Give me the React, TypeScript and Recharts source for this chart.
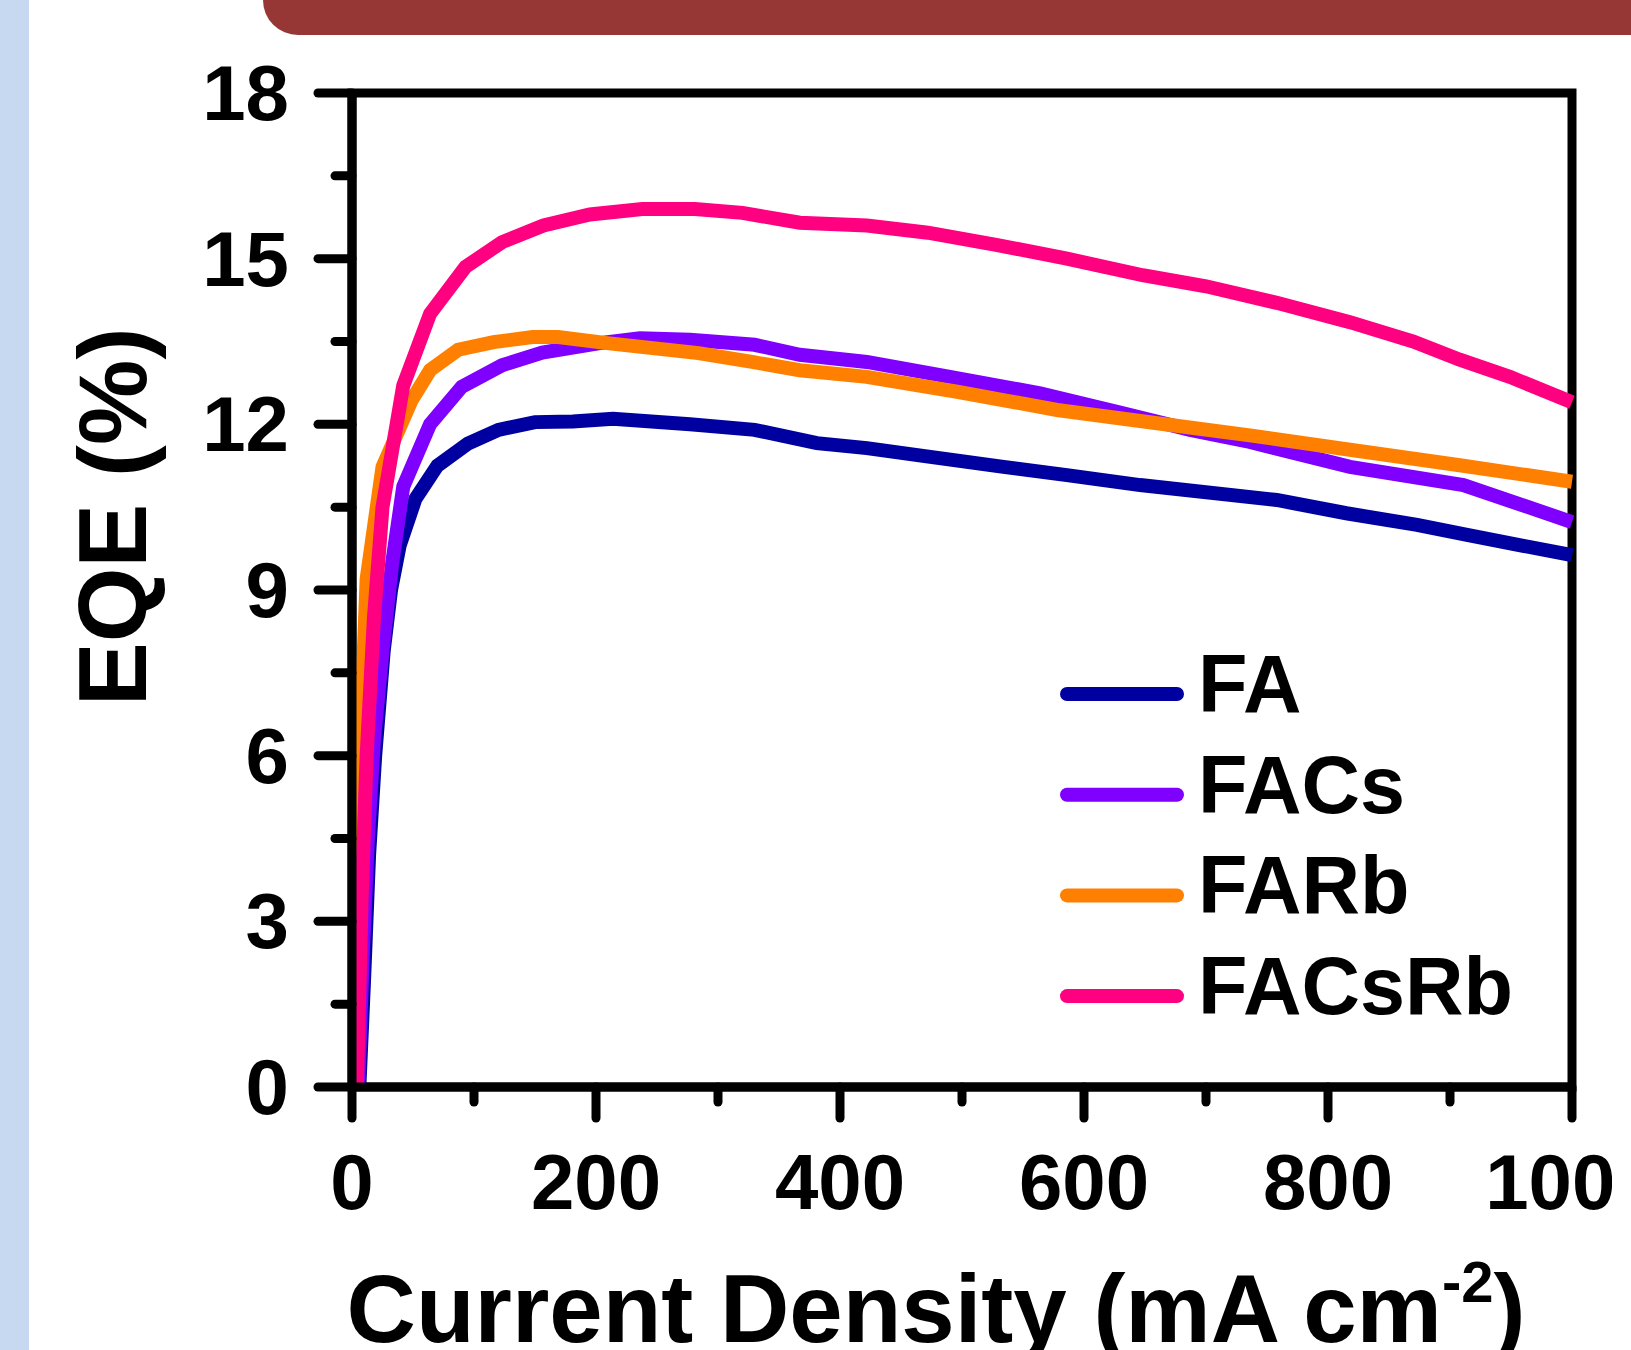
import React from "react"
import { Legend, Line, LineChart, ReferenceArea, XAxis, YAxis } from "recharts"

// Values.
const seriesNames = ["FA", "FACs", "FARb", "FACsRb"]
const seriesColors = ["#0000A0", "#8000FF", "#FF8000", "#FF0080"]

const currentFA = [6, 10, 14, 19, 26, 32, 39, 52, 70, 95, 120, 150, 181, 214, 277, 330, 381, 422, 474, 534, 586, 646, 758, 815, 873, 914, 960, 1000]
const eqeFA = [0, 2, 4.2, 6, 7.9, 9.0, 9.8, 10.65, 11.25, 11.65, 11.9, 12.04, 12.05, 12.1, 12.0, 11.9, 11.66, 11.57, 11.41, 11.23, 11.08, 10.9, 10.63, 10.39, 10.18, 10.0, 9.8, 9.63]

const currentFACs = [5, 9, 13, 18, 25, 33, 42, 64, 90, 123, 156, 203, 236, 277, 330, 367, 422, 490, 564, 632, 687, 736, 818, 911, 1000]
const eqeFACs = [0, 2.5, 4.5, 6.3, 7.9, 9.5, 10.87, 12.0, 12.68, 13.07, 13.3, 13.47, 13.56, 13.53, 13.44, 13.26, 13.13, 12.86, 12.56, 12.2, 11.9, 11.68, 11.23, 10.9, 10.23]

const currentFARb = [3, 6, 9, 12, 25, 49, 64, 87, 116, 148, 169, 209, 284, 328, 367, 422, 496, 578, 660, 736, 818, 908, 1000]
const eqeFARb = [0, 4.5, 7.5, 9.2, 11.23, 12.44, 12.98, 13.35, 13.49, 13.58, 13.58, 13.47, 13.29, 13.13, 12.98, 12.86, 12.59, 12.26, 12.02, 11.8, 11.54, 11.26, 10.96]

const currentFACsRb = [4, 8, 12, 18, 25, 42, 64, 93, 123, 157, 195, 238, 281, 320, 367, 422, 472, 528, 586, 648, 700, 758, 818, 870, 908, 949, 1000]
const eqeFACsRb = [0, 3.5, 6, 8.5, 10.5, 12.7, 14.0, 14.85, 15.3, 15.6, 15.8, 15.9, 15.9, 15.83, 15.65, 15.6, 15.47, 15.25, 15.0, 14.7, 14.5, 14.2, 13.85, 13.5, 13.17, 12.86, 12.4]

const xTicks = [0, 100, 200, 300, 400, 500, 600, 700, 800, 900, 1000]
const yTicks = [0, 1.5, 3, 4.5, 6, 7.5, 9, 10.5, 12, 13.5, 15, 16.5, 18]

const zip = (xs: number[], ys: number[]) => xs.map((x, i) => ({ x, y: ys[i] }))

const series = [
  zip(currentFA, eqeFA),
  zip(currentFACs, eqeFACs),
  zip(currentFARb, eqeFARb),
  zip(currentFACsRb, eqeFACsRb),
]

const FONT = "'Liberation Sans', Arial, sans-serif"
const AXIS_W = 9
const LINE_W = 14

function YTick(props: any) {
  const { x, y, payload } = props
  const major = payload.value % 3 === 0
  return (
    <g>
      <line
        x1={x - (major ? 34 : 17)}
        x2={x}
        y1={y}
        y2={y}
        stroke="#000"
        strokeWidth={AXIS_W}
        strokeLinecap="round"
      />
      {major && (
        <text
          x={x - 63}
          y={y}
          dy={27}
          textAnchor="end"
          fontFamily={FONT}
          fontWeight="bold"
          fontSize={78}
          fill="#000"
        >
          {payload.value}
        </text>
      )}
    </g>
  )
}

function XTick(props: any) {
  const { x, y, payload } = props
  const major = payload.value % 200 === 0
  return (
    <g>
      <line
        x1={x}
        x2={x}
        y1={y}
        y2={y + (major ? 31 : 15)}
        stroke="#000"
        strokeWidth={AXIS_W}
        strokeLinecap="round"
      />
      {major && (
        <text
          x={x}
          y={y + 122}
          textAnchor="middle"
          fontFamily={FONT}
          fontWeight="bold"
          fontSize={78}
          fill="#000"
        >
          {payload.value}
        </text>
      )}
    </g>
  )
}

function XTitle(props: any) {
  const { viewBox } = props
  const cx = viewBox.x + viewBox.width / 2 - 26
  return (
    <text
      x={cx}
      y={viewBox.y + 255}
      textAnchor="middle"
      fontFamily={FONT}
      fontWeight="bold"
      fontSize={96}
      fill="#000"
    >
      Current Density (mA cm
      <tspan fontSize={58} dy={-40}>-2</tspan>
      <tspan dy={40}>)</tspan>
    </text>
  )
}

function YTitle(props: any) {
  const { viewBox } = props
  const bx = viewBox.x - 106
  const cy = viewBox.y + viewBox.height / 2 - 73
  return (
    <text
      x={bx}
      y={cy}
      transform={`rotate(-90, ${bx}, ${cy})`}
      textAnchor="middle"
      fontFamily={FONT}
      fontWeight="bold"
      fontSize={96}
      fill="#000"
    >
      EQE (%)
    </text>
  )
}

function LegendBox({ payload }: any) {
  // keep the plotting order (Recharts sorts legend items by name)
  const items = seriesNames
    .map((name) => (payload ?? []).find((p: any) => p.value === name))
    .filter(Boolean)
  return (
    <svg width={540} height={420}>
      {items.map((entry: any, i: number) => {
        const cy = 54 + i * 100.7
        return (
          <g key={entry.value}>
            <line
              x1={17}
              x2={127}
              y1={cy}
              y2={cy}
              stroke={entry.color}
              strokeWidth={LINE_W}
              strokeLinecap="round"
            />
            <text
              x={148}
              y={cy + 18}
              fontFamily={FONT}
              fontWeight="bold"
              fontSize={81}
              fill="#000"
            >
              {entry.value}
            </text>
          </g>
        )
      })}
    </svg>
  )
}

export default function App() {
  return (
    <div
      style={{
        position: "absolute",
        left: 0,
        top: 0,
        width: 1631,
        height: 1350,
        background: "#FFFFFF",
        overflow: "hidden",
      }}
    >
      {/* slide decorations */}
      <div style={{ position: "absolute", left: 0, top: 0, width: 29, height: 1350, background: "#C6D9F0" }} />
      <div
        style={{
          position: "absolute",
          left: 263,
          top: 0,
          width: 1368,
          height: 35,
          background: "#963735",
          borderBottomLeftRadius: 40,
        }}
      />
      {/* the figure is cropped a little before the right edge */}
      <div style={{ position: "absolute", left: 0, top: 0, width: 1612, height: 1350, overflow: "hidden" }}>
        <LineChart
          width={1631}
          height={1350}
          margin={{ top: 93, right: 59, bottom: 163, left: 252 }}
        >
          <XAxis
            dataKey="x"
            type="number"
            domain={[0, 1000]}
            ticks={xTicks}
            interval={0}
            tickSize={0}
            tickMargin={0}
            height={100}
            axisLine={{ stroke: "#000", strokeWidth: AXIS_W }}
            tick={<XTick />}
            label={<XTitle />}
          />
          <YAxis
            dataKey="y"
            type="number"
            domain={[0, 18]}
            ticks={yTicks}
            interval={0}
            tickSize={0}
            tickMargin={0}
            width={100}
            axisLine={{ stroke: "#000", strokeWidth: AXIS_W }}
            tick={<YTick />}
            label={<YTitle />}
          />
          {series.map((data, i) => (
            <Line
              key={seriesNames[i]}
              data={data}
              dataKey="y"
              name={seriesNames[i]}
              type="linear"
              stroke={seriesColors[i]}
              strokeWidth={LINE_W}
              style={{ strokeWidth: LINE_W }}
              dot={false}
              activeDot={false}
              legendType="line"
              isAnimationActive={false}
            />
          ))}
          <ReferenceArea
            x1={0}
            x2={1000}
            y1={0}
            y2={18}
            fill="none"
            stroke="#000"
            strokeWidth={AXIS_W}
            ifOverflow="visible"
          />
          <Legend
            layout="vertical"
            align="center"
            verticalAlign="middle"
            wrapperStyle={{ left: 1050, top: 640, width: 540, height: 420 }}
            content={<LegendBox />}
          />
        </LineChart>
      </div>
    </div>
  )
}
